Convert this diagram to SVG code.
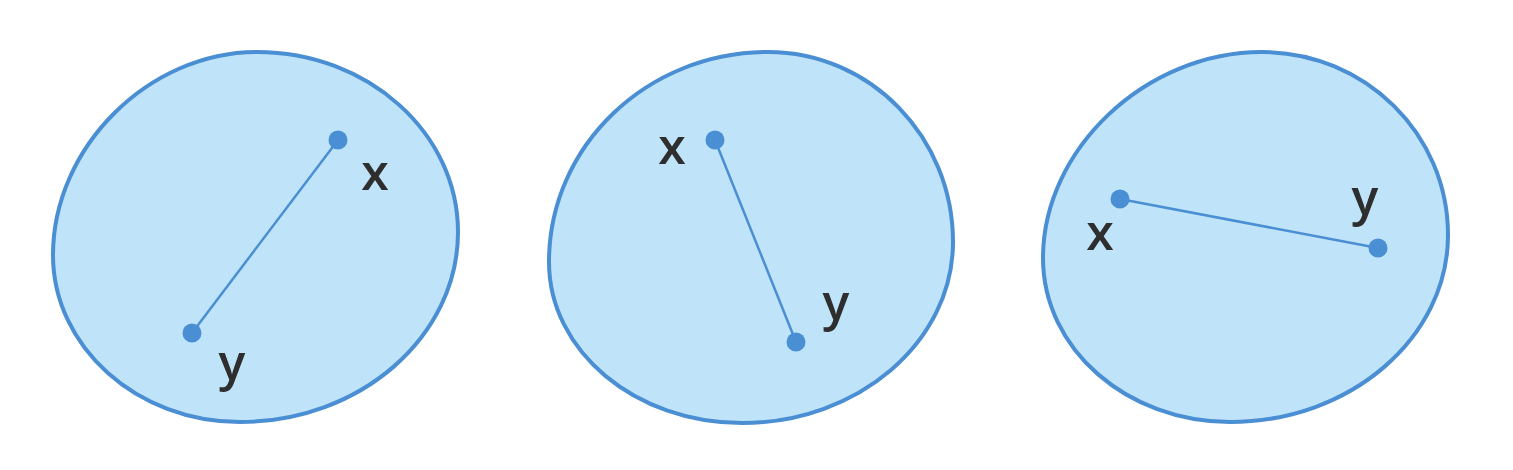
<svg xmlns="http://www.w3.org/2000/svg" width="1513" height="470" viewBox="0 0 1513 470">
<style>
.blob{fill:#bfe4f9;stroke:#4a8ed3;stroke-width:4}
.seg{stroke:#4a8ed3;stroke-width:2.5;fill:none}
.dot{fill:#4a8ed3}
.lbl{font-family:"Open Sans","Liberation Sans",Arial,sans-serif;font-weight:600;font-size:50px;fill:#2e2e2e;text-anchor:middle}
</style>
<rect width="1513" height="470" fill="#ffffff"/>
<g id="set1">
<path class="blob" d="M53,255 C53,147 149,52 257,52 C368,52 458,133 458,232 C458,337 360,422 240,422 C137,422 53,347 53,255 Z"/>
</g>
<g id="set2">
<path class="blob" d="M549,262 C549,146 647,52 768,52 C870,52 953,137 953,242 C953,342 858,423 742,423 C635,423 549,351 549,262 Z"/>
</g>
<g id="set3">
<path class="blob" d="M1043,258 C1043,149 1146,52 1262,52 C1365,52 1448,134 1448,235 C1448,338 1350,422 1230,422 C1127,422 1043,349 1043,258 Z"/>
</g>
<g id="connectors">
<line class="seg" x1="338" y1="140" x2="192" y2="333"/>
<line class="seg" x1="715" y1="140" x2="796" y2="342"/>
<line class="seg" x1="1120" y1="199" x2="1378" y2="248"/>
</g>
<g id="points">
<circle class="dot" cx="338" cy="140" r="9.5"/>
<circle class="dot" cx="192" cy="333" r="9.5"/>
<circle class="dot" cx="715" cy="140" r="9.5"/>
<circle class="dot" cx="796" cy="342" r="9.5"/>
<circle class="dot" cx="1120" cy="199" r="9.5"/>
<circle class="dot" cx="1378" cy="248" r="9.5"/>
</g>
<g id="labels">
<text class="lbl" x="375" y="190">x</text>
<text class="lbl" x="232" y="380">y</text>
<text class="lbl" x="672" y="164">x</text>
<text class="lbl" x="836" y="320">y</text>
<text class="lbl" x="1100" y="250">x</text>
<text class="lbl" x="1365" y="215">y</text>
</g>
</svg>
